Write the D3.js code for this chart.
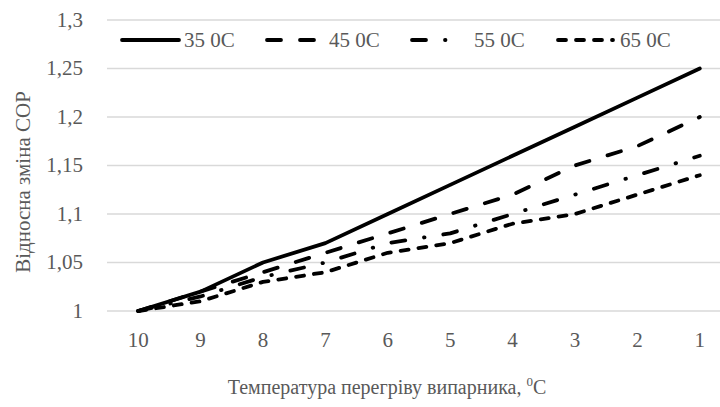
<!DOCTYPE html>
<html><head><meta charset="utf-8">
<script src="https://cdn.jsdelivr.net/npm/d3@7"></script>
<style>body{margin:0;background:#fff}svg{display:block}</style>
</head><body><svg id="c" width="720" height="407"></svg>
<script>
const categories = ["10","9","8","7","6","5","4","3","2","1"];
const s35 = [1.00,1.02,1.05,1.07,1.10,1.13,1.16,1.19,1.22,1.25];
const s45 = [1.00,1.02,1.04,1.06,1.08,1.10,1.12,1.15,1.17,1.20];
const s55 = [1.00,1.015,1.035,1.05,1.07,1.08,1.10,1.12,1.14,1.16];
const s65 = [1.00,1.01,1.03,1.04,1.06,1.07,1.09,1.10,1.12,1.14];
const seriesNames = ["35 0C","45 0C","55 0C","65 0C"];
const yTicks = [1,1.05,1.1,1.15,1.2,1.25,1.3];
const yTickLabels = ["1","1,05","1,1","1,15","1,2","1,25","1,3"];

const series = [
  {name:seriesNames[0], values:s35, dash:null, len:57},
  {name:seriesNames[1], values:s45, dash:"14,19", len:55},
  {name:seriesNames[2], values:s55, dash:"14,19,0.5,19", len:50},
  {name:seriesNames[3], values:s65, dash:"8,10", len:55}
];

const FF = "Liberation Serif";
const TC = "#595959";
const svg = d3.select("#c");
const fs = 21;
const x = d3.scaleBand().domain(categories).range([107, 731]);
const y = d3.scaleLinear().domain([1,1.3]).range([311, 20]);

svg.append("g").selectAll("line").data(yTicks).join("line")
  .attr("x1",107).attr("x2",720).attr("y1",d=>y(d)).attr("y2",d=>y(d))
  .attr("stroke","#d9d9d9").attr("stroke-width",1.3);

svg.append("g").selectAll("text").data(yTicks).join("text")
  .attr("x",83).attr("y",d=>y(d)).attr("dy","0.33em")
  .attr("text-anchor","end").attr("font-size",fs).attr("font-family",FF).attr("fill",TC)
  .text((d,i)=>yTickLabels[i]);

svg.append("g").selectAll("text").data(categories).join("text")
  .attr("x",d=>x(d)+x.bandwidth()/2).attr("y",340).attr("dy","0.33em")
  .attr("text-anchor","middle").attr("font-size",fs).attr("font-family",FF).attr("fill",TC)
  .text(d=>d);

const line = d3.line().x((d,i)=>x(categories[i])+x.bandwidth()/2).y(d=>y(d));
series.forEach(s=>{
  svg.append("path").attr("d",line(s.values)).attr("fill","none")
    .attr("stroke","#000").attr("stroke-width",3.8)
    .attr("stroke-linecap","round").attr("stroke-linejoin","round")
    .attr("stroke-dasharray",s.dash);
});

const legX = [122,267,412,558];
const legT = [184,329,474,620];
const lg = svg.append("g");
series.forEach((s,i)=>{
  lg.append("line").attr("x1",legX[i]).attr("x2",legX[i]+s.len).attr("y1",40).attr("y2",40)
    .attr("stroke","#000").attr("stroke-width",3.8).attr("stroke-linecap","round")
    .attr("stroke-dasharray",s.dash);
  lg.append("text").attr("x",legT[i]).attr("y",40).attr("dy","0.33em")
    .attr("font-size",fs).attr("font-family",FF).attr("fill",TC).text(s.name);
});

svg.append("text").attr("transform","translate(30,182) rotate(-90)")
  .attr("text-anchor","middle").attr("font-size",fs).attr("font-family",FF).attr("fill",TC)
  .text("Відносна зміна COP");
const xt = svg.append("text").attr("x",387).attr("y",394).attr("text-anchor","middle")
  .attr("font-size",20).attr("font-family",FF).attr("fill",TC);
xt.append("tspan").text("Температура перегріву випарника, ");
xt.append("tspan").attr("font-size",13).attr("dy",-8).text("0");
xt.append("tspan").attr("dy",8).text("C");
</script></body></html>
